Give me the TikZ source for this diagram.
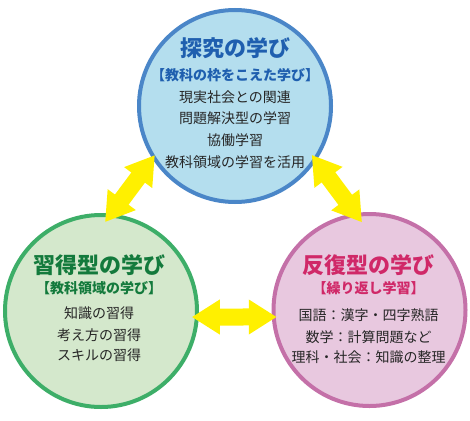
\documentclass[tikz,border=0pt]{standalone}
\usepackage{fontspec}
\setmainfont{Noto Sans CJK JP}
\usetikzlibrary{arrows.meta}
\usetikzlibrary{calc}
\usepackage{xcolor}

\definecolor{blueline}{HTML}{4A86C8}
\definecolor{bluefill}{HTML}{B4DEEE}
\definecolor{bluetext}{HTML}{1F5FAF}
\definecolor{greenline}{HTML}{3DAE68}
\definecolor{greenfill}{HTML}{D4E8CC}
\definecolor{greentext}{HTML}{137A3C}
\definecolor{pinkline}{HTML}{C470A8}
\definecolor{pinkfill}{HTML}{E8C8DF}
\definecolor{pinktext}{HTML}{D02868}
\definecolor{inktext}{HTML}{262626}
\definecolor{arrowyellow}{HTML}{FFF000}

\begin{document}
\begin{tikzpicture}[x=1pt,y=-1pt,
    circ/.style={circle, minimum size=192pt, inner sep=0pt, outer sep=0pt, line width=4pt},
    title/.style={font=\fontsize{22}{26}\selectfont\bfseries},
    sub/.style={font=\fontsize{14}{17}\selectfont\bfseries},
    body/.style={font=\fontsize{14}{17}\selectfont, text=inktext},
    dbl/.style={line width=17pt, draw=arrowyellow,
        {Triangle[length=28pt,width=33pt]}-{Triangle[length=28pt,width=33pt]}}]

        \useasboundingbox (0,0) rectangle (470,420);

        % Circles
        \node[circ, draw=blueline, fill=bluefill] (tanq) at (235,106) {};
        \node[circ, draw=greenline, fill=greenfill] (shutoku) at (101,311) {};
        \node[circ, draw=pinkline, fill=pinkfill] (hanpuku) at (369.5,310) {};

        % Arrows
        \draw[dbl] ($(tanq)+(211.5:94pt)$) -- ($(shutoku)+(87.4:89pt)$);
        \draw[dbl] ($(tanq)+(327.5:91pt)$) -- ($(hanpuku)+(94.9:88pt)$);
        \draw[dbl] ($(shutoku)+(356.2:91pt)$) -- ($(hanpuku)+(184.3:93pt)$);

        % Top circle
        \node[title, text=bluetext] (tanqT) at ($(tanq)+(0,-58)$) {探究の学び};
        \node[sub, text=bluetext] (tanqS) at ($(tanq)+(0,-31)$) {【教科の枠をこえた学び】};
        \node[body] (tanq1) at ($(tanq)+(0,-9)$) {現実社会との関連};
        \node[body] (tanq2) at ($(tanq)+(0,12)$) {問題解決型の学習};
        \node[body] (tanq3) at ($(tanq)+(0,34)$) {協働学習};
        \node[body] (tanq4) at ($(tanq)+(0,56)$) {教科領域の学習を活用};

        % Left circle
        \node[title, text=greentext] (shutokuT) at ($(shutoku)+(-2,-46)$) {習得型の学び};
        \node[sub, text=greentext] (shutokuS) at ($(shutoku)+(-2,-23)$) {【教科領域の学び】};
        \node[body] (shutoku1) at ($(shutoku)+(-2,2)$) {知識の習得};
        \node[body] (shutoku2) at ($(shutoku)+(-2,24)$) {考え方の習得};
        \node[body] (shutoku3) at ($(shutoku)+(-2,44)$) {スキルの習得};

        % Right circle
        \node[title, text=pinktext] (hanpukuT) at ($(hanpuku)+(-1,-45)$) {反復型の学び};
        \node[sub, text=pinktext] (hanpukuS) at ($(hanpuku)+(-1,-22)$) {【繰り返し学習】};
        \node[body] (hanpuku1) at ($(hanpuku)+(-1,5)$) {国語：漢字・四字熟語};
        \node[body] (hanpuku2) at ($(hanpuku)+(-1,27)$) {数学：計算問題など};
        \node[body] (hanpuku3) at ($(hanpuku)+(-1,47)$) {理科・社会：知識の整理};
    \end{tikzpicture}
\end{document}
